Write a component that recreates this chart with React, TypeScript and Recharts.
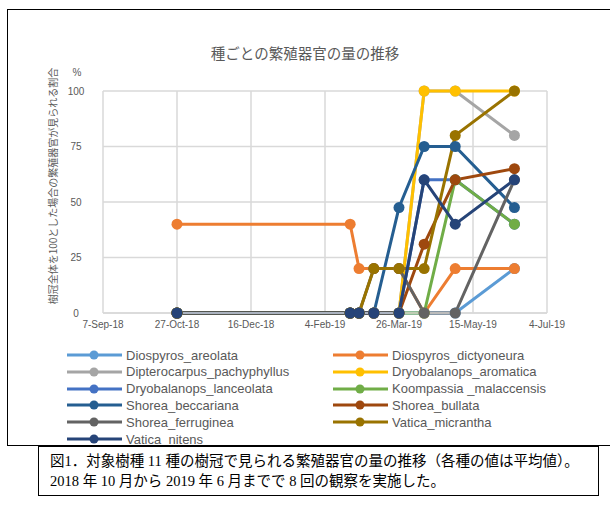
import React from "react"
import { CartesianGrid, Line, LineChart, XAxis, YAxis } from "recharts"

// observation dates (8 surveys)
const obsDates = ["2018-10-27", "2019-02-21", "2019-02-27", "2019-03-09", "2019-03-26", "2019-04-12", "2019-05-03", "2019-06-12"]
const tickDates = ["2018-09-07", "2018-10-27", "2018-12-16", "2019-02-04", "2019-03-26", "2019-05-15", "2019-07-04"]
const yTicks = [0, 25, 50, 75, 100]

const speciesNames = [
  "Diospyros_areolata",
  "Diospyros_dictyoneura",
  "Dipterocarpus_pachyphyllus",
  "Dryobalanops_aromatica",
  "Dryobalanops_lanceolata",
  "Koompassia _malaccensis",
  "Shorea_beccariana",
  "Shorea_bullata",
  "Shorea_ferruginea",
  "Vatica_micrantha",
  "Vatica_nitens",
]
const speciesColors = ["#5B9BD5", "#ED7D31", "#A5A5A5", "#FFC000", "#4472C4", "#70AD47", "#255E91", "#9E480E", "#636363", "#997300", "#264478"]

const diospyrosAreolata = [0, 0, 0, 0, 0, 0, 0, 20]
const diospyrosDictyoneura = [40, 40, 20, 20, 20, 0, 20, 20]
const dipterocarpusPachyphyllus = [0, 0, 0, 0, 0, 100, 100, 80]
const dryobalanopsAromatica = [0, 0, 0, 0, 0, 100, 100, 100]
const dryobalanopsLanceolata = [0, 0, 0, 0, 0, 60, 60, 40]
const koompassiaMalaccensis = [0, 0, 0, 0, 0, 0, 60, 40]
const shoreaBeccariana = [0, 0, 0, 0, 47.5, 75, 75, 47.5]
const shoreaBullata = [0, 0, 0, 0, 0, 31, 60, 65]
const shoreaFerruginea = [0, 0, 0, 20, 20, 0, 0, 60]
const vaticaMicrantha = [0, 0, 0, 20, 20, 20, 80, 100]
const vaticaNitens = [0, 0, 0, 0, 0, 60, 40, 60]

const seriesValues = [
  diospyrosAreolata,
  diospyrosDictyoneura,
  dipterocarpusPachyphyllus,
  dryobalanopsAromatica,
  dryobalanopsLanceolata,
  koompassiaMalaccensis,
  shoreaBeccariana,
  shoreaBullata,
  shoreaFerruginea,
  vaticaMicrantha,
  vaticaNitens,
]

const toTime = (s: string) => {
  const [y, m, d] = s.split("-").map(Number)
  return Date.UTC(y, m - 1, d)
}

const MONTHS = ["Jan", "Feb", "Mar", "Apr", "May", "Jun", "Jul", "Aug", "Sep", "Oct", "Nov", "Dec"]
const fmtDate = (t: number) => {
  const d = new Date(t)
  return `${d.getUTCDate()}-${MONTHS[d.getUTCMonth()]}-${String(d.getUTCFullYear()).slice(2)}`
}

const chartData = obsDates.map((date, i) => {
  const row: Record<string, number> = { t: toTime(date) }
  speciesNames.forEach((name, k) => {
    row[`s${k}`] = seriesValues[k][i]
  })
  return row
})

const xTicks = tickDates.map(toTime)

const latin = "'Liberation Sans', Arial, 'Noto Sans CJK JP', sans-serif"
const jp = "'Noto Sans CJK JP', 'Noto Sans', sans-serif"
const grey = "#595959"

const YTick = (props: any) => (
  <text x={76} y={props.y} textAnchor="middle" dominantBaseline="central" fontSize={10} fill={grey} fontFamily={latin}>
    {props.payload.value}
  </text>
)

const LegendItem = ({ name, color, left, top }: { name: string; color: string; left: number; top: number }) => (
  <div style={{ position: "absolute", left, top, height: 16, display: "flex", alignItems: "center" }}>
    <svg width={55} height={12} style={{ display: "block" }}>
      <line x1={0} y1={6} x2={55} y2={6} stroke={color} strokeWidth={3} />
      <circle cx={27} cy={6} r={4.5} fill={color} />
    </svg>
    <span style={{ marginLeft: 4, fontSize: 13, color: grey, fontFamily: latin, whiteSpace: "nowrap" }}>{name}</span>
  </div>
)

export default function App() {
  return (
    <div style={{ position: "absolute", left: 0, top: 0, width: 610, height: 507, background: "#fff", overflow: "hidden" }}>
      {/* outer frame */}
      <div style={{ position: "absolute", left: 7, top: 9, width: 610, height: 437, border: "1.5px solid #000", boxSizing: "border-box" }} />

      <div style={{ position: "absolute", left: 0, top: 0 }}>
        <LineChart width={610} height={343} data={chartData} margin={{ top: 91, right: 63, left: 73, bottom: 0 }}>
          <CartesianGrid stroke="#D9D9D9" strokeWidth={1.5} />
          <XAxis
            type="number"
            dataKey="t"
            domain={[xTicks[0], xTicks[xTicks.length - 1]]}
            ticks={xTicks}
            tickFormatter={fmtDate}
            tickLine={false}
            tickSize={0}
            tickMargin={8}
            axisLine={{ stroke: "#D9D9D9", strokeWidth: 1.5 }}
            tick={{ fontSize: 10, fill: grey, fontFamily: latin }}
            height={30}
          />
          <YAxis type="number" domain={[0, 100]} ticks={yTicks} axisLine={false} tickLine={false} width={30} tick={<YTick />} />
          {speciesNames.map((name, k) => (
            <Line
              key={name}
              dataKey={`s${k}`}
              name={name}
              stroke={speciesColors[k]}
              strokeWidth={3}
              dot={{ r: 5.5, fill: speciesColors[k], stroke: "none" }}
              activeDot={false}
              isAnimationActive={false}
            />
          ))}
        </LineChart>
      </div>

      <svg width={610} height={340} style={{ position: "absolute", left: 0, top: 0, pointerEvents: "none" }}>
        <text x={305} y={52} textAnchor="middle" dominantBaseline="central" fontSize={14.5} fill={grey} fontFamily={jp}>
          種ごとの繁殖器官の量の推移
        </text>
        <text x={77} y={72} textAnchor="middle" dominantBaseline="central" fontSize={10} fill={grey} fontFamily={latin}>
          %
        </text>
        <text
          x={52}
          y={186}
          textAnchor="middle"
          dominantBaseline="central"
          fontSize={10}
          fill={grey}
          fontFamily={jp}
          transform="rotate(-90 52 186)"
        >
          樹冠全体を100とした場合の繁殖器官が見られる割合
        </text>
      </svg>

      {speciesNames.map((name, k) => (
        <LegendItem
          key={name}
          name={name}
          color={speciesColors[k]}
          left={k % 2 === 0 ? 67 : 333}
          top={347 + Math.floor(k / 2) * 16.8}
        />
      ))}

      {/* caption */}
      <div
        style={{
          position: "absolute",
          left: 38,
          top: 446,
          width: 561,
          height: 50,
          border: "1px solid #000",
          boxSizing: "border-box",
          padding: "4px 0 0 11px",
          fontFamily: "'Liberation Serif', 'Noto Sans CJK JP', serif",
          fontSize: 14.5,
          lineHeight: "20px",
          color: "#000",
          whiteSpace: "nowrap",
        }}
      >
        <div>図1．対象樹種 11 種の樹冠で見られる繁殖器官の量の推移（各種の値は平均値）。</div>
        <div>2018 年 10 月から 2019 年 6 月までで 8 回の観察を実施した。</div>
      </div>
    </div>
  )
}
